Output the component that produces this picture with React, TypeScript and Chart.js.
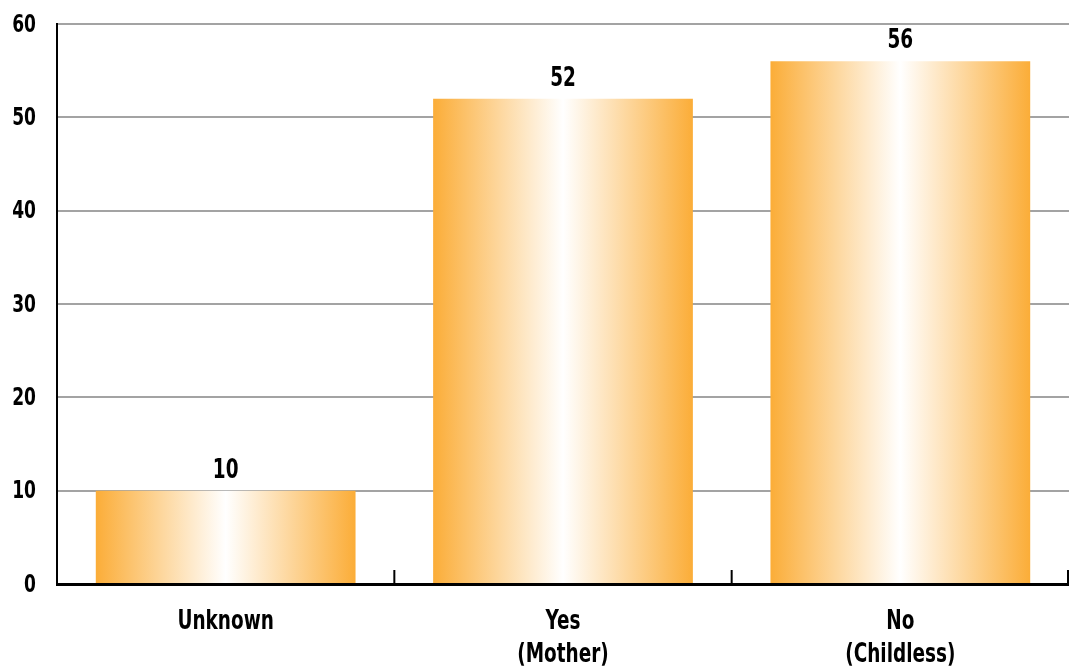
import { useEffect, useRef } from "react";
import { Chart, registerables } from "chart.js";

Chart.register(...registerables);

// Data
const categories: string[][] = [["Unknown"], ["Yes", "(Mother)"], ["No", "(Childless)"]];
const counts: number[] = [10, 52, 56];
const yTickValues: number[] = [0, 10, 20, 30, 40, 50, 60];

// Styling
const FONT_FAMILY = "'DejaVu Sans Condensed', 'Liberation Sans Narrow', sans-serif";
const TEXT_SQUEEZE = 0.76; // horizontal compression for a condensed headline look
const ORANGE = "#FBAD38";
const BAR_PERCENT = 0.77;
const GRID_GRAY = "#a3a3a3";

// Draws a string squeezed horizontally around its anchor point
function squeezedText(ctx: CanvasRenderingContext2D, text: string, x: number, y: number) {
  ctx.save();
  ctx.translate(x, y);
  ctx.scale(TEXT_SQUEEZE, 1);
  ctx.fillText(text, 0, 0);
  ctx.restore();
}

// Horizontal orange → white → orange fill for each bar
function barGradient(ctx: any) {
  const chart = ctx.chart;
  const xScale = chart.scales?.x;
  if (!xScale || ctx.dataIndex === undefined || !chart.ctx) return ORANGE;
  const center = xScale.getPixelForValue(ctx.dataIndex);
  const half = ((xScale.right - xScale.left) / counts.length) * BAR_PERCENT / 2;
  if (!isFinite(center) || !isFinite(half) || half <= 0) return ORANGE;
  const g = chart.ctx.createLinearGradient(center - half, 0, center + half, 0);
  g.addColorStop(0, ORANGE);
  g.addColorStop(0.5, "#FFFFFF");
  g.addColorStop(1, ORANGE);
  return g;
}

// Axis labels in the condensed bold face
const axisLabels = {
  id: "axisLabels",
  afterDraw(chart: any) {
    const { ctx } = chart;
    const yScale = chart.scales.y;
    const xScale = chart.scales.x;
    ctx.save();
    ctx.fillStyle = "#000";

    // value axis
    ctx.font = `bold 25px ${FONT_FAMILY}`;
    ctx.textAlign = "right";
    ctx.textBaseline = "middle";
    yTickValues.forEach((v) => {
      squeezedText(ctx, String(v), yScale.right - 21, yScale.getPixelForValue(v) + 1);
    });

    // category axis
    const lineHeight = 33;
    ctx.font = `bold 27px ${FONT_FAMILY}`;
    ctx.textAlign = "center";
    categories.forEach((lines, i) => {
      const x = xScale.getPixelForValue(i);
      lines.forEach((line, j) => {
        squeezedText(ctx, line, x, xScale.top + 22 + 16 + j * lineHeight);
      });
    });
    ctx.restore();
  },
};

// Value labels above each bar
const valueLabels = {
  id: "valueLabels",
  afterDatasetsDraw(chart: any) {
    const { ctx } = chart;
    const meta = chart.getDatasetMeta(0);
    ctx.save();
    ctx.fillStyle = "#000";
    ctx.font = `bold 27px ${FONT_FAMILY}`;
    ctx.textAlign = "center";
    ctx.textBaseline = "alphabetic";
    meta.data.forEach((bar: any, i: number) => {
      squeezedText(ctx, String(counts[i]), bar.x, bar.y - 13);
    });
    ctx.restore();
  },
};

// Short upward tick marks on the category axis at category boundaries
const boundaryTicks = {
  id: "boundaryTicks",
  afterDraw(chart: any) {
    const { ctx } = chart;
    const xScale = chart.scales.x;
    const step = (xScale.right - xScale.left) / categories.length;
    const bottom = chart.chartArea.bottom;
    ctx.save();
    ctx.strokeStyle = "#000";
    ctx.lineWidth = 2;
    for (let i = 0; i < categories.length; i++) {
      const x = Math.min(xScale.getPixelForValue(i) + step / 2, chart.width - 1);
      ctx.beginPath();
      ctx.moveTo(x, bottom - 14);
      ctx.lineTo(x, bottom);
      ctx.stroke();
    }
    ctx.restore();
  },
};

export default function App() {
  const canvasRef = useRef<HTMLCanvasElement | null>(null);

  useEffect(() => {
    if (!canvasRef.current) return;
    const chart = new Chart(canvasRef.current, {
      type: "bar",
      data: {
        labels: categories,
        datasets: [
          {
            data: counts,
            backgroundColor: barGradient,
            borderWidth: 0,
            categoryPercentage: 1,
            barPercentage: BAR_PERCENT,
          },
        ],
      },
      options: {
        animation: false,
        responsive: false,
        events: [],
        layout: { padding: { top: 24, right: 0, left: 0, bottom: 0 } },
        plugins: {
          legend: { display: false },
          tooltip: { enabled: false },
          title: { display: false },
        },
        scales: {
          x: {
            grid: { color: "rgba(0,0,0,0)", drawTicks: false },
            border: { color: "#000", width: 3 },
            ticks: { display: false },
            afterFit(scale: any) {
              scale.height = 83;
            },
          },
          y: {
            min: 0,
            max: 60,
            afterBuildTicks(scale: any) {
              scale.ticks = yTickValues.map((v) => ({ value: v }));
            },
            grid: {
              color: (c: any) => (c.tick && c.tick.value === 0 ? "rgba(0,0,0,0)" : GRID_GRAY),
              lineWidth: 2,
              drawTicks: false,
            },
            border: { color: "#000", width: 2 },
            ticks: { display: false },
            afterFit(scale: any) {
              scale.width = 57;
            },
          },
        },
      },
      plugins: [valueLabels, axisLabels, boundaryTicks],
    });
    return () => chart.destroy();
  }, []);

  return (
    <div style={{ position: "absolute", left: 0, top: 0, width: 1069, height: 667, background: "#fff" }}>
      <canvas ref={canvasRef} width={1069} height={667} style={{ display: "block" }} />
    </div>
  );
}
